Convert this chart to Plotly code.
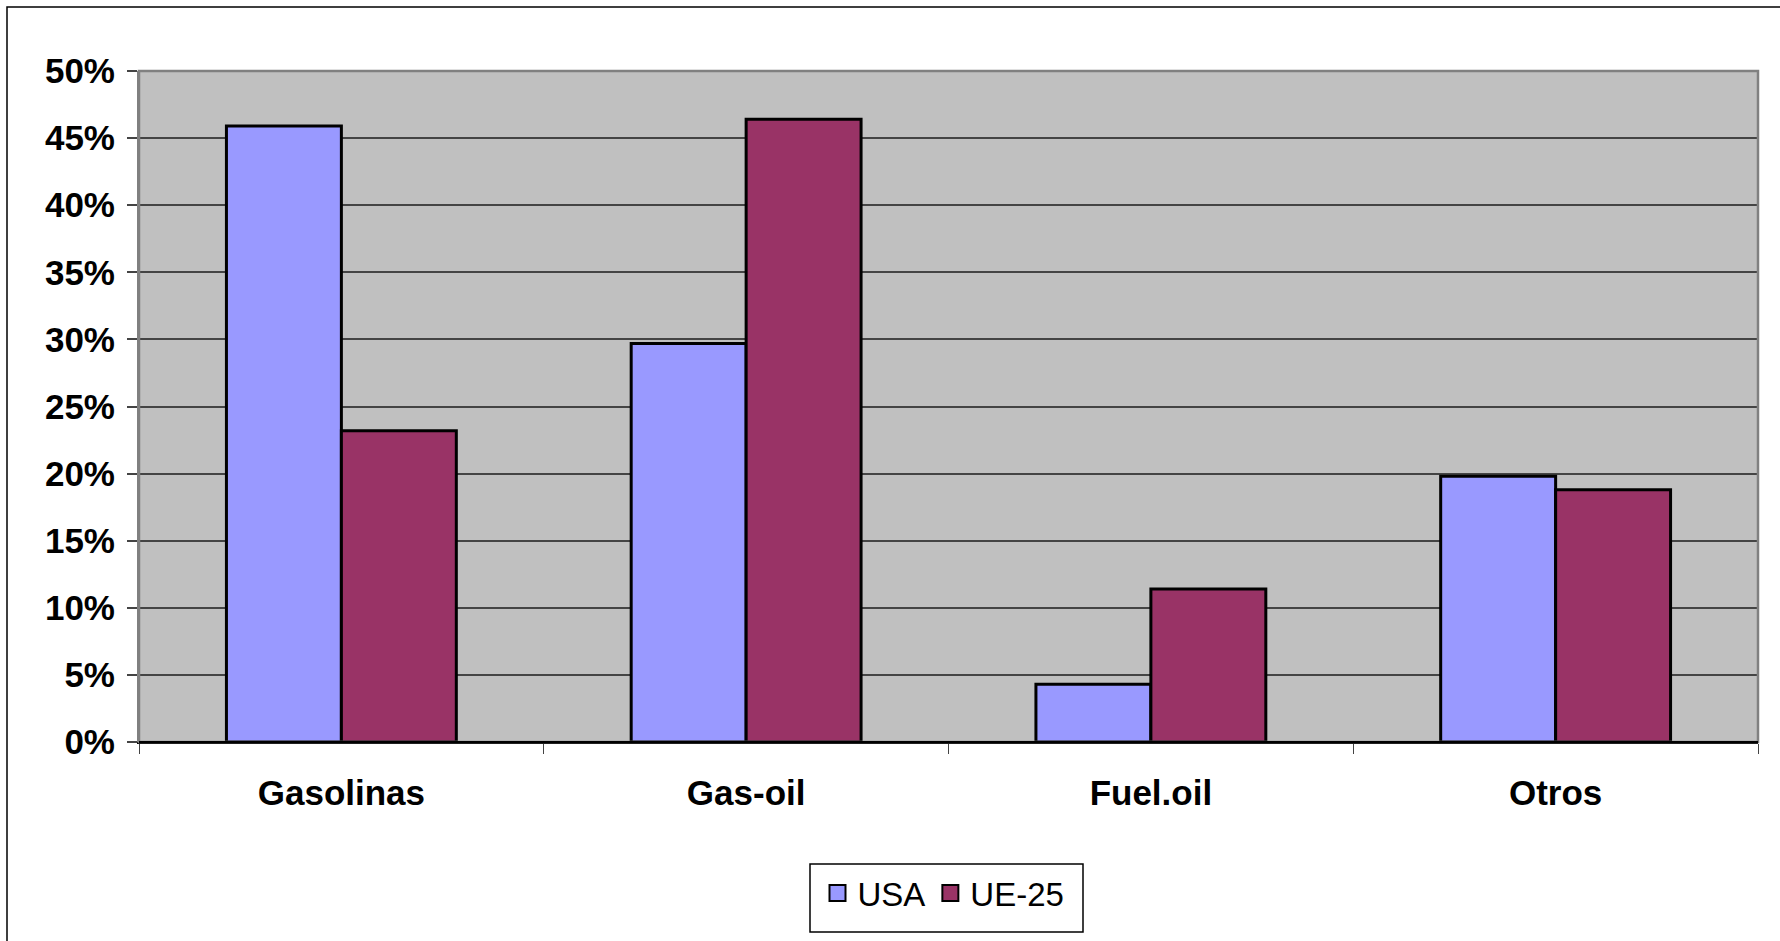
import plotly.graph_objects as go

categories = ["Gasolinas", "Gas-oil", "Fuel.oil", "Otros"]
usa = [0.459, 0.297, 0.043, 0.198]
ue25 = [0.232, 0.464, 0.114, 0.188]
series_names = ["USA", "UE-25"]
y_ticks = [0, 0.05, 0.10, 0.15, 0.20, 0.25, 0.30, 0.35, 0.40, 0.45, 0.50]

W, H = 1780, 941
L, R, T, B = 139, 22, 71, 199
pw, ph = W - L - R, H - T - B

C_USA = "#9999FF"
C_UE = "#993366"
FONT = "Liberation Sans"

# legend box (pixels)
LB_X0, LB_X1, LB_Y0, LB_Y1 = 810, 1083, 864, 932

def px_x(x):
    return (x - L) / pw

def px_y(y):
    return (H - B - y) / ph

fig = go.Figure()
for name, vals, col in [(series_names[0], usa, C_USA), (series_names[1], ue25, C_UE)]:
    fig.add_trace(go.Bar(
        x=categories, y=vals, name=name, marker=dict(color=col, line=dict(color="black", width=3)),
        showlegend=False,
    ))
    fig.add_trace(go.Scatter(
        x=[None], y=[None], mode="markers", name=name,
        marker=dict(symbol="square", size=16, color=col, line=dict(color="black", width=2)),
        showlegend=True,
    ))

fig.update_layout(
    width=W, height=H, autosize=False,
    margin=dict(l=L, r=R, t=T, b=B, pad=0),
    paper_bgcolor="white", plot_bgcolor="#C0C0C0",
    barmode="group", bargap=0.432, bargroupgap=0,
    font=dict(family=FONT, color="black"),
    showlegend=True,
    legend=dict(
        orientation="h", x=px_x((LB_X0 + LB_X1) / 2 - 3), xanchor="center",
        y=px_y((LB_Y0 + LB_Y1) / 2 - 5), yanchor="middle",
        borderwidth=0, bgcolor="rgba(0,0,0,0)",
        font=dict(family=FONT, size=33, color="black"),
        itemsizing="trace",
    ),
    xaxis=dict(
        type="category", showgrid=False, showline=True, linecolor="black", linewidth=2,
        ticks="outside", tickson="boundaries", ticklen=10, tickcolor="#444", tickwidth=1,
        tickfont=dict(family=FONT, size=35, weight="bold", color="black"),
        ticklabelstandoff=19, fixedrange=True,
    ),
    yaxis=dict(
        range=[0, 0.5], tickvals=y_ticks, tickformat=".0%",
        showgrid=True, gridcolor="#444", gridwidth=1.5, zeroline=False,
        showline=True, linecolor="#808080", linewidth=2,
        ticks="outside", ticklen=10, tickcolor="#444", tickwidth=1.5,
        tickfont=dict(family=FONT, size=35, weight="bold", color="black"),
        ticklabelstandoff=5, fixedrange=True,
    ),
    shapes=[
        dict(type="rect", xref="paper", yref="paper", x0=0, x1=1, y0=0, y1=1,
             line=dict(color="#808080", width=2.5), layer="above"),
        dict(type="line", xref="paper", yref="paper", x0=0, x1=1, y0=0, y1=0,
             line=dict(color="black", width=2), layer="above"),
        dict(type="rect", xref="paper", yref="paper",
             x0=px_x(7), x1=px_x(W + 20), y0=px_y(H + 20), y1=px_y(7),
             line=dict(color="black", width=1.5), layer="above"),
        dict(type="rect", xref="paper", yref="paper",
             x0=px_x(LB_X0), x1=px_x(LB_X1), y0=px_y(LB_Y1), y1=px_y(LB_Y0),
             line=dict(color="black", width=1.5), layer="above"),
    ],
)

fig.write_html("out.html")
